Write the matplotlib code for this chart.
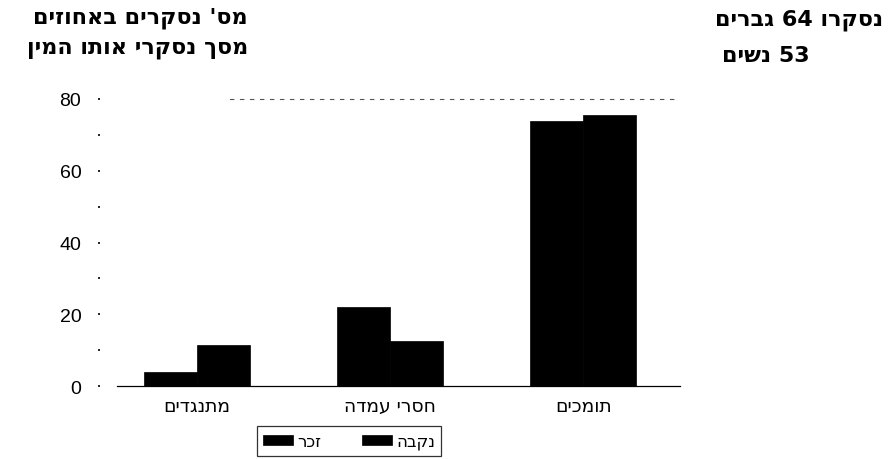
import matplotlib
matplotlib.use("Agg")
import matplotlib.pyplot as plt
import numpy as np

# Survey results: share of respondents (%) out of all respondents of the same sex
categories = ["מתנגדים", "חסרי עמדה", "תומכים"]
male = [4, 22, 74]
female = [11.3, 12.6, 75.5]
series_labels = ["זכר", "נקבה"]
y_ticks = [0, 20, 40, 60, 80]
y_minor = [10, 30, 50, 70]

title_lines = ["מס' נסקרים באחוזים", "מסך נסקרי אותו המין"]
note_lines = ["נסקרו 64 גברים", "53 נשים"]


def visual(s):
    """Lay out a right-to-left Hebrew line for left-to-right glyph drawing."""
    out = []
    for tok in reversed(s.split(" ")):
        out.append(tok if tok.isdigit() else tok[::-1])
    return " ".join(out)


HEB = ["DejaVu Sans"]
NUM = ["Liberation Sans", "DejaVu Sans"]

W, H = 888, 460
fig = plt.figure(figsize=(W / 100, H / 100), dpi=100)
fig.patch.set_facecolor("white")

left, right, top, bottom = 100, 680, 100, 387
ax = fig.add_axes([left / W, 1 - bottom / H, (right - left) / W, (bottom - top) / H])

x = np.arange(len(categories))
bw = 0.275
ax.bar(x - bw / 2, male, width=bw, color="black", edgecolor="black",
       linewidth=0.5, label=visual(series_labels[0]))
ax.bar(x + bw / 2, female, width=bw, color="black", edgecolor="black",
       linewidth=0.5, label=visual(series_labels[1]))

ax.set_xlim(-0.5, 2.5)
ax.set_ylim(0, 80)

ax.set_yticks(y_ticks)
ax.set_yticks(y_minor, minor=True)
ax.set_yticklabels([str(v) for v in y_ticks], family=NUM, fontsize=14)
ax.tick_params(axis="y", which="both", length=1.5, width=1.2, pad=12, color="black")

ax.set_xticks(x)
ax.set_xticklabels([visual(c) for c in categories], family=HEB, fontsize=13.5)
ax.tick_params(axis="x", length=0, pad=7)

for side in ("left", "right"):
    ax.spines[side].set_visible(False)
ax.spines["bottom"].set_linewidth(0.9)
ax.spines["bottom"].set_bounds(-0.41, 2.5)
ax.spines["top"].set_linewidth(0.8)
ax.spines["top"].set_linestyle((0, (3, 6)))
ax.spines["top"].set_color("#555555")
ax.spines["top"].set_bounds(0.17, 2.5)

# Legend box under the category labels
leg = fig.legend(loc="center", bbox_to_anchor=(349 / W, 1 - 442 / H), ncol=2,
                 prop={"family": HEB, "size": 12}, frameon=True, fancybox=False,
                 edgecolor="black", handlelength=1.8, handleheight=0.6,
                 handletextpad=0.3, columnspacing=2.4, borderpad=0.35)
leg.get_frame().set_linewidth(0.9)

# Heading at the upper left
fig.text(248 / W, 1 - 18 / H, visual(title_lines[0]), ha="right", va="center",
         family=HEB, fontsize=16, fontweight="bold")
fig.text(248 / W, 1 - 49 / H, visual(title_lines[1]), ha="right", va="center",
         family=HEB, fontsize=16, fontweight="bold")

# Sample sizes at the upper right
fig.text(883 / W, 1 - 20 / H, visual(note_lines[0]), ha="right", va="center",
         family=HEB, fontsize=16, fontweight="bold")
fig.text(722 / W, 1 - 56 / H, visual(note_lines[1]), ha="left", va="center",
         family=HEB, fontsize=16, fontweight="bold")

fig.savefig("out.png", dpi=100, facecolor="white")
